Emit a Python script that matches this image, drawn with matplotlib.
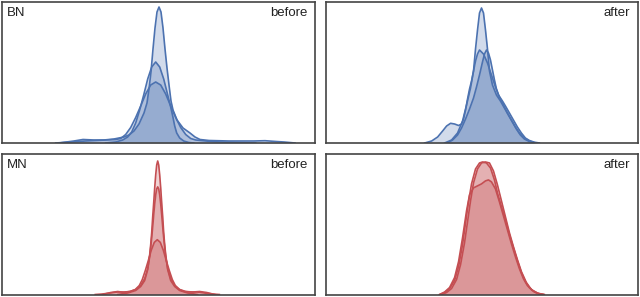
import matplotlib
matplotlib.use('Agg')
import matplotlib.pyplot as plt

# curve values (x: position across panel, y: height)
bn_before_x = [[57, 72, 81, 92, 102, 112, 117, 122, 127, 132, 137, 142, 145, 147, 149, 151, 153, 155, 157,
                159, 161, 163, 165, 167, 169, 171, 175, 181, 188, 193, 198, 207, 227, 252, 263, 274, 282, 293],
               [103.7, 113.7, 120.7, 125.7, 129.7, 133.7, 137.7, 141.7, 145.7, 149.7, 153.7, 157.7, 161.7,
                165.7, 168.7, 170.7, 172.7, 174.7, 177.7, 181.7, 186.7, 191.7],
               [53.7, 68.7, 83.7, 93.7, 103.7, 113.7, 118.7, 123.7, 128.7, 133.7, 138.7, 143.7, 148.7, 153.7,
                158.7, 163.7, 168.7, 173.7, 178.7, 183.7, 188.7, 193.7, 203.7, 213.7, 233.7, 253.7]]
bn_before_y = [[0, 2, 3.5, 3, 3, 4, 5, 6, 8, 12, 19, 30, 40, 54, 71, 94, 115, 131, 136,
                131, 115, 94, 75, 58, 42, 33, 23, 15, 10, 6, 3.5, 2.5, 2, 2, 2.3, 1.5, 1, 0],
               [0, 1, 3, 6, 11, 20, 33, 48, 64, 76, 81, 76, 64,
                48, 36, 27, 17, 10, 5, 2, 0.5, 0],
               [0, 1, 2, 2.5, 3, 3.5, 4.5, 8.5, 15.5, 25.5, 37, 49, 58, 61,
                58, 49, 37, 25.5, 15.5, 8.5, 4.5, 3, 2, 1.2, 0.5, 0]]

bn_after_x = [[119, 126, 132, 137, 141, 145, 148, 150, 152, 154, 156, 158, 160, 162, 164, 167, 171, 175,
               179, 183, 187, 191, 195, 199, 204, 210],
              [99, 106, 112, 117, 121, 125, 129, 133, 136, 138, 140, 142, 144, 146, 148, 150, 152, 154,
               158, 162, 166, 170, 174, 178, 182, 186, 190, 194, 199, 204, 210],
              [122, 127, 132, 136, 140, 144, 148, 151, 154, 157, 159, 161, 163, 165, 167, 169, 171, 173,
               175, 177, 180, 184, 188, 192, 196, 200, 204, 209, 214]]
bn_after_y = [[0, 3, 10, 22, 38, 55, 72, 94, 113, 130, 135, 130, 113, 94, 72, 58, 48, 42,
               35, 28, 21, 14, 8, 4, 1.5, 0],
              [0, 2, 6, 12, 17, 19.7, 19, 17.5, 19, 24, 33, 44, 54, 62, 72, 82, 89, 93,
               89, 80, 68, 56, 46, 38, 30, 23, 16, 10, 5, 2, 0],
              [0, 3, 8, 15, 24, 34, 45, 56, 68, 81, 89, 93, 90, 83, 73, 63, 54, 48,
               45, 42, 37, 30, 23, 16, 10, 5, 2.5, 0.8, 0]]

mn_before_x = [[115.7, 125.7, 133.7, 138.7, 142.7, 145.7, 147.7, 148.7, 149.7, 150.7, 151.7, 152.7, 153.7,
                154.7, 155.7, 156.7, 157.7, 158.7, 159.7, 160.7, 161.7, 162.7, 163.7, 165.7, 168.7, 172.7,
                177.7, 185.7, 195.7],
               [100.7, 108.7, 115.7, 121.7, 127.7, 133.7, 138.7, 142.7, 145.7, 147.7, 148.7, 149.7, 150.7,
                151.7, 152.7, 153.7, 154.7, 155.7, 156.7, 157.7, 158.7, 159.7, 160.7, 161.7, 162.7, 163.7,
                165.7, 168.7, 172.7, 177.7, 183.7, 190.7, 197.7, 204.7, 212.7],
               [93.3, 100.3, 108.3, 115.3, 122.3, 128.3, 133.3, 137.3, 140.3, 143.3, 146.3, 149.3, 152.3,
                155.3, 158.3, 161.3, 164.3, 167.3, 170.3, 173.3, 177.3, 182.3, 188.3, 195.3, 202.3, 210.3,
                217.3]]
mn_before_y = [[0, 1.5, 4, 8, 14, 25, 40, 50, 62, 78, 92, 107, 120,
                130, 134, 130, 120, 107, 92, 78, 62, 50, 40, 25, 14, 8,
                4, 1.5, 0],
               [0, 2, 3, 2.2, 3, 5, 9, 16, 26, 38, 47, 57, 68,
                80, 91, 100, 106, 108, 106, 100, 91, 80, 68, 57, 47, 38,
                26, 16, 9, 5, 3, 2.5, 3, 2, 0],
               [0, 0.5, 1.5, 2.5, 2.5, 3, 5, 9, 15, 24, 34, 44.5, 52.3,
                55, 52.3, 44.5, 34, 24, 15, 9, 5, 3, 2.5, 2.5, 1.5, 0.5,
                0]]

mn_after_x = [[114, 119, 124, 129, 133, 137, 140, 143, 146, 150, 154, 157, 161, 165, 169, 172, 176, 180,
               184, 188, 192, 196, 200, 204, 209, 214, 219],
              [116, 121, 126, 131, 135, 139, 142, 145, 148, 152, 156, 160, 164, 168, 172, 176, 180, 184,
               188, 192, 196, 201, 206, 212, 218],
              [114, 119, 124, 129, 133, 137, 141, 144, 148, 152, 156, 160, 163, 166, 170, 174, 178, 182,
               186, 190, 194, 198, 202, 207, 213, 218]]
mn_after_y = [[0, 2, 6, 14, 28, 50, 72, 93, 111, 126, 132, 133, 132, 127, 115, 102, 88, 75,
               60, 47, 34, 22, 13, 7, 2.5, 0.5, 0],
              [0, 2, 6, 15, 30, 52, 73, 94, 112, 126, 132, 133, 132, 124, 110, 94, 78, 62,
               48, 35, 23, 12, 5, 1.5, 0],
              [0, 2.5, 7, 17, 33, 57, 84, 100, 107, 109, 111, 114, 115, 113, 106, 93, 79, 65,
               51, 38, 26, 16, 9, 4, 1, 0]]

panels = [
    (bn_before_x, bn_before_y, '#4C72B0', 'BN', 'before'),
    (bn_after_x, bn_after_y, '#4C72B0', '', 'after'),
    (mn_before_x, mn_before_y, '#C44E52', 'MN', 'before'),
    (mn_after_x, mn_after_y, '#C44E52', '', 'after'),
]

# axes boxes in figure fractions
boxes = [
    [2 / 640, 1 - 143 / 297, 313 / 640, 141 / 297],
    [326 / 640, 1 - 143 / 297, 312 / 640, 141 / 297],
    [2 / 640, 1 - 294.5 / 297, 313 / 640, 140.5 / 297],
    [326 / 640, 1 - 294.5 / 297, 312 / 640, 140.5 / 297],
]

plt.rcParams['font.family'] = ['Liberation Sans', 'DejaVu Sans']

fig = plt.figure(figsize=(6.4, 2.97), dpi=100)

for (xs, ys, color, name, stage), box in zip(panels, boxes):
    ax = fig.add_axes(box)
    for x, y in zip(xs, ys):
        ax.fill_between(x, 0, y, color=color, alpha=0.25, lw=0)
        ax.plot(x, y, color=color, lw=1.2)
    ax.set_xlim(0, 313)
    ax.set_ylim(0, 141)
    ax.set_xticks([])
    ax.set_yticks([])
    for s in ax.spines.values():
        s.set_color('#444444')
        s.set_linewidth(1.2)
    if name:
        ax.text(0.017, 0.965, name, transform=ax.transAxes, ha='left', va='top',
                fontsize=9.5, color='#222222')
    ax.text(0.975, 0.965, stage, transform=ax.transAxes, ha='right', va='top',
            fontsize=9.5, color='#222222')

fig.savefig('out.png', dpi=100)
